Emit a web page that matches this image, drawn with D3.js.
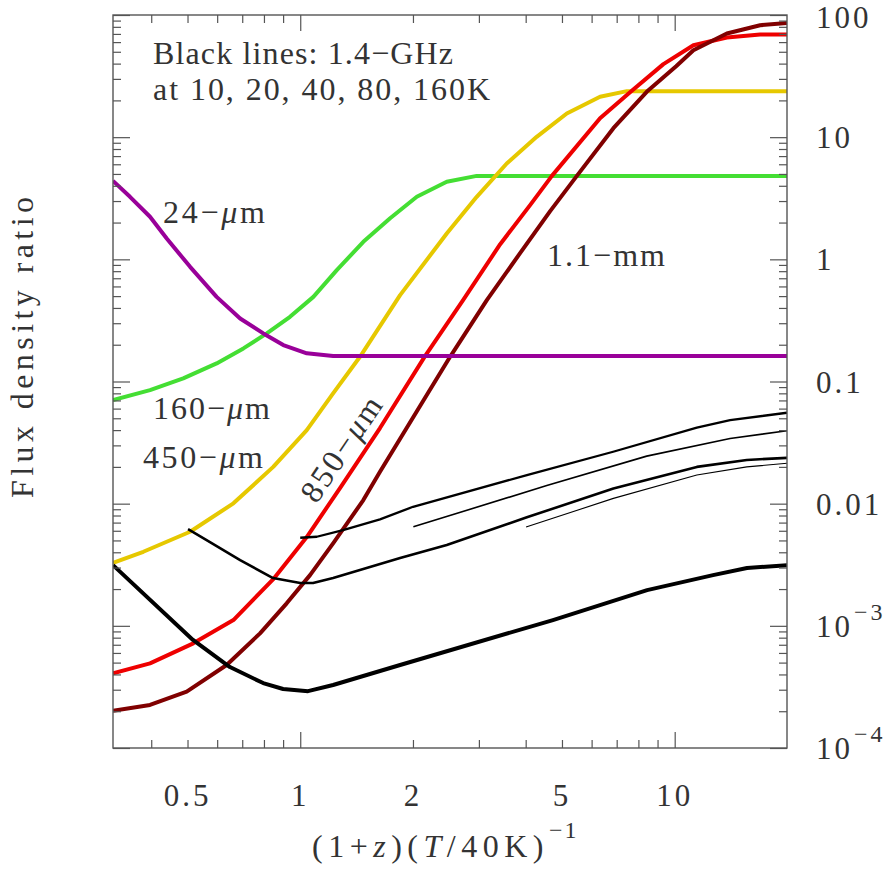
<!DOCTYPE html>
<html>
<head>
<meta charset="utf-8">
<script src="https://cdn.jsdelivr.net/npm/d3@7"></script>
<style>
  html, body { margin: 0; padding: 0; background: #fff; }
  svg { display: block; }
  text { font-family: "Liberation Serif", "DejaVu Serif", serif; fill: #333; }
</style>
</head>
<body>
<svg id="chart" width="892" height="871"></svg>
<script>
// ---------- data ----------
const xDomain = [0.3162, 19.95];
const yDomain = [1e-4, 100];

const xLabelTicks = [0.5, 1, 2, 5, 10];
const xMajorTicks = [1, 10];
const xMinorTicks = [0.4, 0.5, 0.6, 0.7, 0.8, 0.9, 2, 3, 4, 5, 6, 7, 8, 9];
const yMajorTicks = [1e-4, 1e-3, 1e-2, 1e-1, 1, 10, 100];
const yMinorMultipliers = [2, 3, 4, 5, 6, 7, 8, 9];

const yTickLabels = [
  { v: 100,  base: "100" },
  { v: 10,   base: "10" },
  { v: 1,    base: "1" },
  { v: 0.1,  base: "0.1" },
  { v: 0.01, base: "0.01" },
  { v: 1e-3, base: "10", exp: "−3" },
  { v: 1e-4, base: "10", exp: "−4" }
];

// coloured bands: [x, ratio]
const band24um = [[0.3162,4.39],[0.351,3.25],[0.397,2.23],[0.44,1.48],[0.508,0.868],[0.598,0.493],
  [0.691,0.328],[0.797,0.2475],[0.901,0.1986],[1.041,0.170],[1.224,0.1614],[19.95,0.1614]];
const band160um = [[0.3162,0.0704],[0.397,0.085],[0.487,0.106],[0.598,0.1406],[0.705,0.1866],
  [0.814,0.2475],[0.939,0.3385],[1.084,0.493],[1.252,0.816],[1.474,1.39],[1.738,2.17],
  [2.048,3.25],[2.462,4.31],[2.96,4.82],[19.95,4.82]];
const band450um = [[0.3162,3.27e-3],[0.381,4.04e-3],[0.508,5.89e-3],[0.663,1.006e-2],[0.847,2.0e-2],
  [1.041,4.0e-2],[1.224,0.0799],[1.444,0.1593],[1.848,0.509],[2.462,1.629],[2.96,3.25],
  [3.56,6.09],[4.28,10.06],[5.15,15.63],[6.32,21.4],[7.45,23.8],[19.95,23.8]];
const band850um = [[0.3162,4.09e-4],[0.397,4.93e-4],[0.518,7.19e-4],[0.663,1.115e-3],[0.846,2.40e-3],
  [1.041,5.33e-3],[1.277,1.342e-2],[1.633,4.16e-2],[2.154,0.1614],[2.722,0.4636],[3.42,1.331],
  [4.11,2.777],[4.70,4.82],[6.32,14.3],[7.60,23.35],[9.33,39.6],[11.22,56.6],[13.78,65.4],
  [16.91,69.2],[19.95,69.2]];
const band1100um = [[0.3162,2.02e-4],[0.397,2.25e-4],[0.4975,2.89e-4],[0.636,4.78e-4],[0.781,8.68e-4],
  [0.920,1.528e-3],[1.062,2.60e-3],[1.224,4.73e-3],[1.474,1.07e-2],[1.633,1.824e-2],[2.513,0.1593],
  [3.15,0.4636],[3.865,1.124],[4.65,2.48],[5.48,4.82],[6.86,11.85],[8.42,23.5],[10.09,38.1],
  [11.22,51.5],[13.78,70.6],[16.91,82.5],[19.95,86.2]];

// 1.4-GHz ratios for dust temperatures 10, 20, 40, 80, 160 K
const radio10K = [[4.01,6.43e-3],[6.86,1.105e-2],[11.46,1.714e-2],[15.58,2.0e-2],[19.95,2.14e-2]];
const radio20K = [[2.005,6.47e-3],[4.555,1.406e-2],[8.42,2.45e-2],[14.06,3.42e-2],[19.95,3.95e-2]];
const radio40K = [[1.0,5.26e-3],[1.107,5.36e-3],[1.301,6.08e-3],[1.633,7.44e-3],[2.001,9.43e-3],
  [4.03,1.714e-2],[6.85,2.66e-2],[11.46,4.19e-2],[14.06,4.83e-2],[19.95,5.55e-2]];
const radio80K = [[0.5016,6.19e-3],[0.574,4.85e-3],[0.691,3.45e-3],[0.846,2.46e-3],[1.0,2.24e-3],
  [1.082,2.24e-3],[1.224,2.46e-3],[1.848,3.59e-3],[2.462,4.58e-3],[4.03,7.73e-3],[6.86,1.333e-2],
  [11.46,2.0e-2],[15.58,2.28e-2],[19.95,2.37e-2]];
const radio160K = [[0.3162,3.14e-3],[0.517,7.66e-4],[0.649,4.6e-4],[0.796,3.4e-4],[0.90,3.04e-4],
  [1.049,2.92e-4],[1.224,3.28e-4],[1.848,4.78e-4],[4.73,1.115e-3],[8.44,1.96e-3],[12.66,2.6e-3],
  [15.6,2.97e-3],[19.95,3.14e-3]];

const colouredSeries = [
  { data: band160um,  color: "#44de33" },
  { data: band450um,  color: "#e6c800" },
  { data: band850um,  color: "#ee0000" },
  { data: band1100um, color: "#800000" },
  { data: band24um,   color: "#990099" }
];
const radioSeries = [
  { data: radio10K,  width: 1.1 },
  { data: radio20K,  width: 1.6 },
  { data: radio40K,  width: 2.3 },
  { data: radio80K,  width: 2.6 },
  { data: radio160K, width: 4.0 }
];

// ---------- layout ----------
const plotLeft = 113, plotRight = 787, plotTop = 15, plotBottom = 748;
const svg = d3.select("#chart");
const x = d3.scaleLog().domain(xDomain).range([plotLeft, plotRight]);
const y = d3.scaleLog().domain(yDomain).range([plotBottom, plotTop]);

const frameColor = "#555";

svg.append("defs").append("clipPath").attr("id", "plot-clip")
  .append("rect").attr("x", plotLeft).attr("y", plotTop)
  .attr("width", plotRight - plotLeft).attr("height", plotBottom - plotTop);

// ---------- curves ----------
const line = d3.line().x(d => x(d[0])).y(d => y(d[1]));
const plot = svg.append("g").attr("clip-path", "url(#plot-clip)");

plot.selectAll("path.band").data(colouredSeries).join("path")
  .attr("class", "band")
  .attr("d", d => line(d.data))
  .attr("fill", "none")
  .attr("stroke", d => d.color)
  .attr("stroke-width", 4)
  .attr("stroke-linejoin", "round");

plot.selectAll("path.radio").data(radioSeries).join("path")
  .attr("class", "radio")
  .attr("d", d => line(d.data))
  .attr("fill", "none")
  .attr("stroke", "#000")
  .attr("stroke-width", d => d.width)
  .attr("stroke-linejoin", "round");

// ---------- frame and ticks ----------
function styleAxis(g) {
  g.select(".domain").remove();
  g.selectAll(".tick line").attr("stroke", frameColor).attr("stroke-width", 1.2);
  g.selectAll(".tick text").remove();
}
const yMinorTicks = [];
yMajorTicks.slice(0, -1).forEach(v => yMinorMultipliers.forEach(m => yMinorTicks.push(v * m)));

svg.append("g").attr("transform", `translate(0,${plotBottom})`)
  .call(d3.axisBottom(x).tickValues(xMajorTicks).tickSize(-16)).call(styleAxis);
svg.append("g").attr("transform", `translate(0,${plotBottom})`)
  .call(d3.axisBottom(x).tickValues(xMinorTicks).tickSize(-8)).call(styleAxis);
svg.append("g").attr("transform", `translate(0,${plotTop})`)
  .call(d3.axisTop(x).tickValues(xMajorTicks).tickSize(-16)).call(styleAxis);
svg.append("g").attr("transform", `translate(0,${plotTop})`)
  .call(d3.axisTop(x).tickValues(xMinorTicks).tickSize(-8)).call(styleAxis);
svg.append("g").attr("transform", `translate(${plotLeft},0)`)
  .call(d3.axisLeft(y).tickValues(yMajorTicks).tickSize(-17)).call(styleAxis);
svg.append("g").attr("transform", `translate(${plotLeft},0)`)
  .call(d3.axisLeft(y).tickValues(yMinorTicks).tickSize(-8)).call(styleAxis);
svg.append("g").attr("transform", `translate(${plotRight},0)`)
  .call(d3.axisRight(y).tickValues(yMajorTicks).tickSize(-17)).call(styleAxis);
svg.append("g").attr("transform", `translate(${plotRight},0)`)
  .call(d3.axisRight(y).tickValues(yMinorTicks).tickSize(-8)).call(styleAxis);

svg.append("rect")
  .attr("x", plotLeft).attr("y", plotTop)
  .attr("width", plotRight - plotLeft).attr("height", plotBottom - plotTop)
  .attr("fill", "none").attr("stroke", frameColor).attr("stroke-width", 1.4);

// ---------- tick labels ----------
svg.append("g").selectAll("text").data(xLabelTicks).join("text")
  .attr("x", d => x(d))
  .attr("y", 806)
  .attr("text-anchor", "middle")
  .attr("font-size", 31)
  .attr("letter-spacing", 3)
  .text(d => d);

const yLab = svg.append("g").selectAll("text").data(yTickLabels).join("text")
  .attr("x", 816)
  .attr("y", d => Math.max(y(d.v) + 11, 28))
  .attr("font-size", 31)
  .attr("letter-spacing", 3);
yLab.append("tspan").text(d => d.base);
yLab.filter(d => d.exp).append("tspan")
  .attr("dy", -17).attr("dx", 1)
  .attr("font-size", 24)
  .attr("letter-spacing", 3)
  .text(d => d.exp);

// ---------- axis titles ----------
const xt = svg.append("text")
  .attr("x", 312).attr("y", 857)
  .attr("font-size", 32)
  .attr("letter-spacing", 5.5);
xt.append("tspan").text("(1+");
xt.append("tspan").attr("font-style", "italic").text("z");
xt.append("tspan").text(")(");
xt.append("tspan").attr("font-style", "italic").text("T");
xt.append("tspan").text("/40K)");
xt.append("tspan").attr("dy", -19).attr("font-size", 24).attr("letter-spacing", 2).text("−1");

svg.append("text")
  .attr("transform", "translate(33,347.5) rotate(-90)")
  .attr("x", -150.5).attr("y", 0)
  .attr("font-size", 32)
  .attr("textLength", 301).attr("lengthAdjust", "spacing")
  .text("Flux density ratio");

// ---------- annotations ----------
function note(str, x0, yb, len) {
  return svg.append("text").attr("x", x0).attr("y", yb)
    .attr("font-size", 32)
    .attr("textLength", len).attr("lengthAdjust", "spacing")
    .text(str);
}
note("Black lines: 1.4−GHz", 153, 64, 300);
note("at 10, 20, 40, 80, 160K", 153, 100, 337);
note("1.1−mm", 547, 266, 118);

function muLabel(prefix, x0, yb, len, transform) {
  const t = svg.append("text").attr("x", x0).attr("y", yb)
    .attr("font-size", 32)
    .attr("textLength", len).attr("lengthAdjust", "spacing");
  if (transform) t.attr("transform", transform);
  t.append("tspan").text(prefix);
  t.append("tspan").attr("font-style", "italic").text("μ");
  t.append("tspan").text("m");
  return t;
}
muLabel("24−", 163, 223, 102);
muLabel("160−", 153, 419, 117);
muLabel("450−", 143, 468, 120);
muLabel("850−", -60, 0, 120, "translate(350,455) rotate(-56)");
</script>
</body>
</html>
